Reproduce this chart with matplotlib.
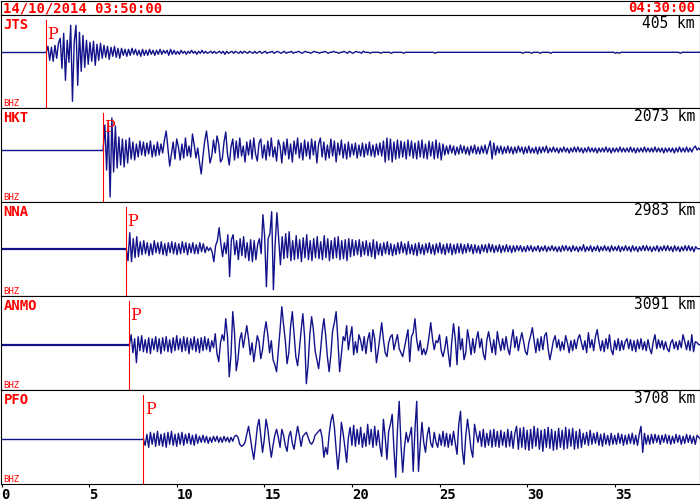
import numpy as np
import matplotlib.pyplot as plt

# ---- chart content -------------------------------------------------------
START_LABEL = "14/10/2014 03:50:00"
END_LABEL = "04:30:00"
STATIONS = ["JTS", "HKT", "NNA", "ANMO", "PFO"]
DISTANCES = ["405 km", "2073 km", "2983 km", "3091 km", "3708 km"]
CHANNEL = "BHZ"
P_TIMES = [2.55, 5.80, 7.12, 7.30, 8.10]   # minutes after 03:50
DT = 0.1                                     # minutes between samples
X_TICKS = [0, 5, 10, 15, 20, 25, 30, 35]

# amplitudes (pixels, up = positive),
# one row per minute starting at the P pick
JTS = [
    0, 6, -8, 5, -9, 7, -6, 9, 14, -16,
    19, -28, 12, -10, 27, -49, 10, 27, -33, 20,
    -19, 17, -15, 12, -12, 10, -9, 11, -13, 8,
    -8, 9, -6, 7, -5, 6, -7, 5, -4, 6,
    -5, 4, -6, 4, -3, 3, -4, 3, -3, 4,
    -2, 3, -3, 2, -4, 3, -3, 2, -3, 3,
    -2, 2, -3, 2, -2, 3, -2, 2, -1, 2,
    -3, 3, -2, 2, -2, 1, -2, 2, -1, 1,
    -2, 1, -1, 2, -1, 1, -2, 1, -1, 2,
    -1, 1, -1, 0, 1, -1, 1, -1, 0, 1,
    -1, 1, -2, 1, -1, 0, 1, -1, 1, 0,
    -1, 1, -1, 1, 0, -1, 1, 0, -1, 1,
    -1, 0, 1, -1, 0, 1, -1, 0, 0, 1,
    -1, 0, 1, 0, -1, 0, 1, -1, 0, 0,
    1, -1, 0, 0, 1, 0, -1, 0, 1, 0,
    0, -1, 0, 1, 0, 0, -1, 0, 0, 1,
    0, -1, 0, 0, 1, 0, 0, -1, 0, 0,
    1, 0, -1, 1, 0, -1, 0, 1, 0, 0,
    -1, 1, 0, 0, 0, -1, 0, 0, 0, 0,
    0, -1, 0, 0, 0, 0, 0, -1, 0, 0,
    0, 0, 0, 0, -1, 0, 0, 0, 0, 0,
    0, 0, 0, 0, 0, 0, 0, 0, 0, 0,
    0, 0, -1, 0, 0, 0, 0, 0, 0, 0,
    0, 0, 0, 0, 0, 0, 0, 0, 0, 0,
    0, 0, 0, 0, 0, 0, 0, 0, 0, 0,
    0, 0, 0, 0, 0, 0, 0, 0, 0, 0,
    0, 0, 0, 0, 0, 0, 0, 0, 0, 0,
    0, 0, -1, 0, 0, 0, 0, -1, 0, 0,
    0, 0, -1, 0, 0, 0, 0, 0, -1, 0,
    0, 0, 0, 0, 0, 0, 0, 0, 0, 0,
    0, 0, 0, 0, 0, 0, 0, 0, 0, 0,
    0, 0, 0, 0, 0, 0, 0, 0, 0, 0,
    0, 0, 0, 0, 0, -1, 0, -1, 0, 0,
    0, 0, 0, 0, 0, 0, 0, 0, 0, 0,
    0, 0, 0, 0, 0, 0, 0, 0, 0, 0,
    0, 0, 0, 0, 0, 0, 0, 0, 0, 0,
    0, 0, -1, 0, 0, 0, 0, 0, 0, 0,
    0, 0, 0, 0, 0, 0, 0, 0, 0, 0,
]

HKT = [
    0, 25, -20, 27, -47, 32, -22, 24, -18, 13,
    -15, 11, -17, 10, -13, 12, -9, 8, -10, 6,
    -7, 9, -5, 8, -6, 7, -4, 9, -7, 5,
    -6, 8, -5, 6, -3, 10, 19, 2, -16, -4,
    8, -9, 11, 3, -10, 6, -8, 12, -6, 4,
    -7, 16, 5, -8, 2, -12, -24, -6, 9, 19,
    4, -13, -6, 10, -3, 14, 6, -12, -9, 8,
    18, -4, -15, 3, 11, -10, 9, -8, 12, -6,
    4, -12, 8, -5, 10, -9, 12, -4, -11, 7,
    11, -8, 5, -10, 9, -6, 12, -7, 3, -11,
    10, 4, -13, 8, -5, 11, -9, 6, -12, 9,
    -4, 12, -8, 7, -10, 10, -6, 8, -9, 11,
    -5, 9, -13, 6, 12, -7, 8, -10, 5, -8,
    11, -6, 9, -12, 7, -5, 10, -8, 6, -9,
    8, -7, 6, -5, 7, -8, 5, -6, 7, -7,
    6, -5, 8, -6, 5, -7, 6, -5, 7, -6,
    9, -12, 12, -10, 11, -12, 8, -9, 10, -8,
    9, -7, 8, -9, 10, -6, 9, -8, 7, -9,
    9, -7, 10, -8, 6, -9, 9, -6, 8, -9,
    10, -8, 7, -10, 6, -5, 4, -4, 5, -3,
    4, -5, 3, -4, 5, -3, 4, -4, 3, -5,
    4, -3, 5, -4, 3, -4, 4, -3, 5, -4,
    3, 9, -9, 7, -5, 4, -3, 4, -4, 3,
    -3, 4, -3, 3, -4, 3, -3, 4, -2, 3,
    -4, 3, -3, 4, -3, 2, -3, 3, -4, 3,
    -3, 3, -2, 4, -3, 2, -2, 3, -2, 2,
    -3, 2, -2, 3, -2, 2, -3, 2, -2, 3,
    -2, 3, -2, 2, -3, 2, -2, 3, -2, 2,
    -2, 2, -3, 2, -2, 2, -2, 3, -2, 2,
    -3, 2, -2, 2, -2, 3, -2, 2, -2, 2,
    -2, 3, -2, 2, -3, 2, -2, 2, -2, 3,
    -2, 2, -2, 2, -2, 3, -2, 2, -2, 2,
    -3, 2, -2, 2, -2, 2, -3, 2, -2, 3,
    -2, 2, -2, 3, -2, 2, -2, 2, 4, 0,
    2, 0,
]

NNA = [
    0, -12, 16, -13, 10, -9, 12, -8, 7, -6,
    8, -5, 6, -7, 5, -6, 8, -4, 6, -5,
    7, -6, 5, -7, 6, -4, 7, -5, 6, -6,
    5, -5, 7, -4, 6, -6, 5, -4, 6, -5,
    4, -5, 6, -3, 5, -4, 2, -2, 1, -3,
    -13, 3, 8, 21, 5, -8, 6, -5, 14, -28,
    9, 14, -6, 8, -11, 10, -7, 12, -9, 6,
    -12, 9, -13, 8, -11, 4, 10, -5, 34, 12,
    -38, 10, 15, 37, -41, 5, 36, 10, -16, 12,
    -10, 15, -9, 17, -12, 8, -11, 13, -10, 9,
    -13, 11, -9, 14, -11, 8, -12, 10, -9, 12,
    -10, 7, -11, 13, -9, 10, -12, 8, -10, 11,
    -9, 12, -11, 8, -10, 9, -12, 10, -8, 9,
    -7, 8, -6, 9, -8, 7, -6, 8, -7, 6,
    -8, 9, -10, 7, -6, 5, -7, 6, -5, 7,
    -6, 5, -7, 4, -6, 6, -5, 7, -4, 5,
    -6, 7, -5, 4, -6, 5, -7, 6, -5, 4,
    -6, 5, -4, 6, -5, 4, -6, 5, -4, 6,
    -5, 4, -6, 5, -4, 5, -6, 4, -5, 5,
    -4, 5, -5, 4, -4, 5, -3, 4, -5, 4,
    -4, 3, -5, 4, -3, 4, -4, 5, -3, 4,
    -4, 3, -3, 4, -4, 3, -3, 4, -3, 3,
    -4, 3, -3, 3, -2, 3, -3, 2, -3, 3,
    -2, 3, -3, 2, -2, 3, -3, 2, -2, 3,
    -3, 2, -2, 3, -2, 2, -3, 2, -3, 3,
    -2, 3, -2, 2, -3, 3, -2, 2, -3, 2,
    -2, 4, -3, 2, -2, 3, -3, 2, -2, 3,
    -3, 2, -2, 3, -2, 2, -3, 3, -2, 2,
    -2, 3, -3, 2, -2, 3, -2, 2, -3, 3,
    -2, 2, -3, 2, -2, 3, -2, 3, -2, 2,
    -3, 2, -2, 3, -3, 2, -2, 3, -2, 3,
    -2, 2, -3, 3, -2, 2, -3, 2, -2, 3,
    -2, 3, -2, 2, -3, 2, 0, 0, 0, 0,
]

ANMO = [
    0, 10, -8, 6, -18, 8, -6, 9, -7, 5,
    -8, 7, -9, 6, -5, 8, -7, 6, -9, 7,
    -6, 8, -7, 5, -8, 7, -6, 9, -5, 6,
    -7, 8, -6, 7, -9, 6, -5, 8, -7, 6,
    -8, 7, -6, 8, -5, 6, -7, 4, -3, 11,
    -9, -17, 2, 10, 4, 26, 8, -32, -10, 33,
    12, -26, -14, 5, 12, -3, 8, 19, 6, -10,
    2, -17, -4, 9, 3, -14, -5, 12, 23, 10,
    -8, 4, -15, -20, -27, -6, 15, 38, 20, 4,
    -19, -8, 18, 33, 10, -12, -21, -5, 14, 31,
    8, -39, -20, 10, 28, 15, -6, -15, -24, -8,
    12, 26, 10, -12, -27, -10, 14, 22, 33, 5,
    -27, -10, 8, 4, 19, -5, 8, 18, -10, 3,
    -8, 10, 4, -6, 8, -9, 5, 12, -7, 15,
    6, -18, -6, 8, 22, 5, -8, -12, 2, 8,
    10, -5, 3, 10, -4, -8, -12, -3, 6, 15,
    -17, 8, 12, 26, 5, -6, 4, -10, -4, -10,
    -4, 8, 22, 6, -5, 4, 2, 10, -6, -12,
    -4, 8, -8, -22, 3, 21, 6, -20, 18, -5,
    6, -15, -8, 15, 4, -10, 6, -8, 5, 13,
    -3, 6, -9, -15, 4, 13, 3, -8, 5, -10,
    13, 2, -6, 6, -5, 8, -4, -10, 4, 15,
    -3, 8, -6, 4, 12, 3, -7, -10, 2, 9,
    17, 4, -8, 6, -6, 8, -5, 9, 12, -4,
    -15, -6, 4, 9, -3, 5, -6, 3, -5, 9,
    2, -8, 4, -6, 5, -4, 6, 10, 2, -5,
    4, -8, 12, -3, 5, -6, 8, 15, 3, -6,
    4, -7, 6, -4, 10, -5, -10, 4, -5, 6,
    -6, 4, -5, 3, 6, -4, 5, -6, 4, -7,
    5, -4, 6, -5, 3, -6, 5, -4, -9, 3,
    10, -4, 5, -3, 4, -5, 3, -4, -7, 2,
    5, -4, 3, -5, 4, -3, 10, 3, -5, 4,
    -6, 10, -7, 3, 2, 0, 0, 0, 0, 0,
]

PFO = [
    0, -6, 5, -8, 7, -5, 6, -7, 8, -6,
    5, -7, 6, -8, 7, -5, 8, -6, 5, -7,
    6, -5, 7, -6, 5, -4, 6, -5, 4, -6,
    5, -4, 3, -3, 4, -3, 3, -4, 2, -3,
    3, -2, 3, -3, 2, -3, 3, -2, 2, -3,
    2, -2, 3, 4, 2, -5, -7, -6, -3, 5,
    13, 2, -10, -20, -5, 12, 20, 3, -13, 0,
    20, 10, -5, -18, -6, 4, 10, 2, -8, 10,
    4, -6, -12, 3, 8, -4, -10, 2, 13, 4,
    -7, 3, 5, 7, 2, -3, -5, -2, 4, 6,
    8, 10, 2, -18, -8, -15, 5, 18, 25, 12,
    -10, -30, -12, 17, 6, -8, -23, 2, 12, -6,
    14, -7, 10, -5, 12, -8, 6, -7, 15, -5,
    10, -8, 13, -6, 9, -7, -17, 20, 2, -20,
    8, 15, 25, -10, -38, 10, 38, -5, -33, -8,
    7, -3, 4, 12, -32, 10, 38, -32, -5, 17,
    -3, -13, 4, 12, -4, -8, 7, -3, -8, 5,
    -6, 8, -7, 6, -8, 5, -6, 8, -4, -15,
    15, 28, -10, -25, 4, 20, 6, -10, -18, 15,
    5, -3, 8, -7, 10, -8, 6, -6, 9, -8,
    10, -7, 8, -8, 9, -6, 7, -8, 10, -7,
    8, -9, 6, 13, -10, 11, -8, 12, -10, 9,
    -11, 10, -9, 13, -7, 11, -10, 9, -12, 10,
    -8, 12, -9, 10, -11, 8, -10, 11, -8, 9,
    -10, 12, -9, 10, -7, 11, -10, 8, -9, 10,
    -8, 6, -5, 7, -6, 9, -5, 6, -4, 7,
    -6, 5, -7, 6, -5, 4, -6, 6, -5, 4,
    -5, 6, -4, 5, -6, 4, -5, 5, -4, 6,
    -5, 4, -6, 5, 13, -13, 6, -5, 4, -5,
    5, -4, 5, -3, 4, -5, 4, -3, 5, -4,
    4, -5, 3, -4, 5, -3, 4, -5, 3, -4,
    5, -3, 4, -4, 3, -5, 4, 2, 0, 0,
]

TRACES = [JTS, HKT, NNA, ANMO, PFO]

# ---- layout (pixels of the 700x501 picture) --------------------------------
W, H = 700, 501
PX_T0 = 1.5          # pixel column of minute 0
PX_PER_MIN = 17.52
PANEL_EDGES = [15, 108, 202, 296, 390, 484]
BASELINES = [52.3, 150, 248.7, 344.7, 439.3]
PRE_LW = [1.0, 1.0, 1.6, 1.6, 1.0]
NAVY = "#12128a"
RED = "#ff0000"
MONO = "DejaVu Sans Mono"


def fx(x):
    return x / W


def fy(y):
    return 1 - y / H


fig = plt.figure(figsize=(W / 100, H / 100), dpi=100)
xlim = ((0.5 - PX_T0) / PX_PER_MIN, (699.5 - PX_T0) / PX_PER_MIN)

# header strip with the time window
header = fig.add_axes([fx(0.5), fy(15), 699 / W, 14.5 / H])
header.set_xticks([])
header.set_yticks([])
for sp in header.spines.values():
    sp.set_linewidth(0.8)
fig.text(fx(3), fy(12.4), START_LABEL, color=RED, fontsize=10,
         family=MONO, weight="bold", ha="left", va="baseline")
fig.text(fx(695), fy(12.4), END_LABEL, color=RED, fontsize=10,
         family=MONO, weight="bold", ha="right", va="baseline")

for k, amps in enumerate(TRACES):
    top, bot = PANEL_EDGES[k], PANEL_EDGES[k + 1]
    base = BASELINES[k]
    ax = fig.add_axes([fx(0.5), fy(bot), 699 / W, (bot - top) / H])
    ax.set_xlim(xlim)
    ax.set_ylim(-(bot - base), base - top)
    ax.set_yticks([])
    for sp in ax.spines.values():
        sp.set_linewidth(0.8)

    t0 = P_TIMES[k]
    t = t0 + DT * np.arange(len(amps))
    ax.plot([xlim[0], t0], [0, 0], color=NAVY, lw=PRE_LW[k], zorder=2)
    ax.plot(t, amps, color=NAVY, lw=1.0, zorder=2)

    # P arrival marker
    h = bot - top
    ax.axvline(t0, ymin=1.5 / h, ymax=1 - 4.5 / h, color=RED, lw=0.8, zorder=3)
    px_p = PX_T0 + PX_PER_MIN * t0
    fig.text(fx(px_p + 1.2), fy(top + 24), "P", color=RED, fontsize=11.5,
             family="DejaVu Serif", ha="left", va="baseline", zorder=1)

    fig.text(fx(3.5), fy(top + 13.8), STATIONS[k], color=RED, fontsize=10,
             family=MONO, weight="bold", ha="left", va="baseline")
    fig.text(fx(695), fy(top + 12.8), DISTANCES[k], color="black",
             fontsize=10.5, family=MONO, ha="right", va="baseline")
    fig.text(fx(3), fy(bot - 1.8), CHANNEL, color=RED, fontsize=6.5,
             family=MONO, ha="left", va="baseline")

    if k == len(TRACES) - 1:
        ax.set_xticks(X_TICKS)
        ax.set_xticklabels([str(v) for v in X_TICKS], family=MONO,
                           fontsize=10, weight="bold")
        ax.tick_params(axis="x", direction="out", length=2.5, width=0.8,
                       pad=0.3)
        for lbl in ax.get_xticklabels():
            lbl.set_ha("left")
    else:
        ax.set_xticks([])

fig.savefig("out.png", dpi=100)
